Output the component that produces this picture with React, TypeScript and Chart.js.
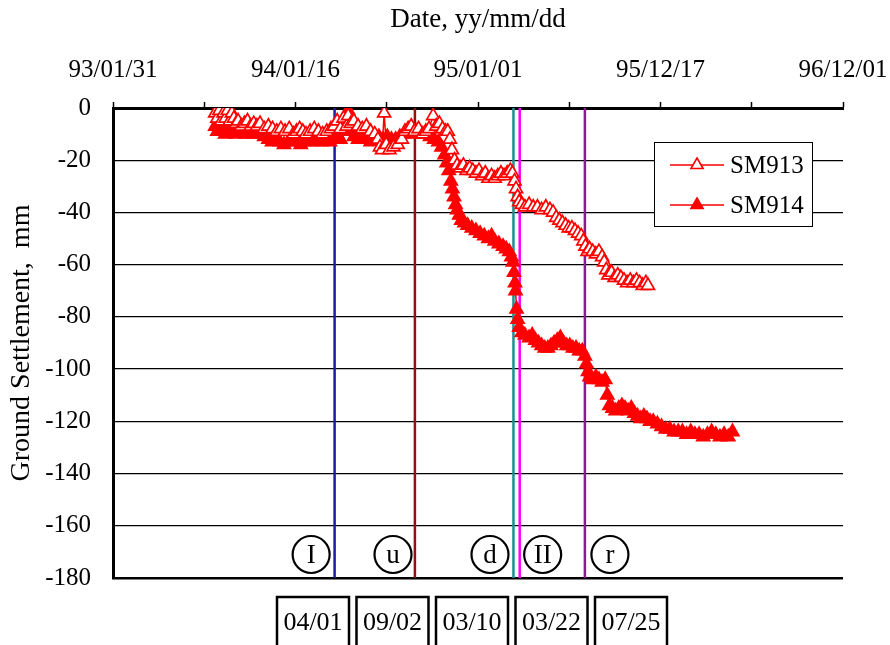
import React, { useEffect, useRef } from 'react';
import { Chart, registerables } from 'chart.js';

Chart.register(...registerables);

// x values are days counted from 93/01/31
const xTickLabels = ['93/01/31', '94/01/16', '95/01/01', '95/12/17', '96/12/01'];

const days913 = [
  196, 200, 204, 208, 212, 216, 220, 224, 228, 232,
  236, 240, 246, 252, 258, 264, 270, 276, 282, 290,
  298, 306, 314, 322, 330, 338, 346, 352, 358, 364,
  370, 378, 386, 394, 402, 410, 418, 424, 430, 436,
  442, 448, 451, 456, 462, 470, 478, 486, 494, 502,
  508, 512, 516, 520, 524, 530, 538, 546, 554, 560,
  566, 572, 578, 586, 594, 600, 606, 614, 620, 626,
  632, 638, 642, 646, 650, 655, 660, 666, 672, 678,
  684, 690, 696, 702, 708, 714, 720, 726, 732, 738,
  744, 750, 756, 762, 766, 770, 773, 776, 779, 784,
  790, 798, 806, 814, 822, 830, 838, 844, 850, 856,
  862, 868, 874, 880, 886, 892, 898, 902, 906, 910,
  914, 920, 926, 932, 938, 942, 946, 950, 956, 962,
  968, 974, 980, 986, 992, 998, 1004, 1010, 1016, 1022,
  1026,
];
const sm913 = [
  -2, -4, -1, -5, -2, -4, -1, -5, -2, -4,
  -6, -5, -7, -6, -5, -7, -6, -7, -6, -8,
  -7, -8, -9, -8, -9, -8, -10, -9, -8, -9,
  -10, -9, -8, -9, -10, -9, -8, -7, -5, -8,
  -4, -7, -3, -6, -5, -7, -8, -7, -9, -10,
  -12, -15, -16, -2, -14, -16, -15, -14, -12, -9,
  -8, -7, -9, -8, -10, -9, -8, -3, -7, -6,
  -8, -9, -9, -12, -16, -20, -22, -23, -22, -24,
  -23, -24, -25, -24, -26, -25, -27, -26, -27, -26,
  -25, -26, -25, -24, -25, -28, -31, -34, -36, -37,
  -38, -37, -38, -38, -39, -38, -39, -40, -42, -43,
  -44, -45, -46, -46, -47, -48, -49, -51, -53, -55,
  -54, -55, -56, -55, -57, -59, -62, -64, -63, -65,
  -64, -65, -66, -67, -66, -67, -66, -67, -68, -67,
  -68,
];

const days914 = [
  196, 200, 205, 210, 215, 220, 225, 230, 236, 242,
  248, 255, 262, 268, 275, 282, 290, 298, 305, 312,
  320, 328, 336, 344, 352, 360, 368, 376, 384, 392,
  400, 408, 416, 424, 430, 436, 442, 448, 451, 455,
  462, 470, 478, 486, 494, 502, 510, 518, 526, 534,
  542, 550, 558, 566, 574, 582, 590, 600, 608, 616,
  624, 630, 636, 640, 644, 648, 651, 654, 657, 660,
  664, 668, 674, 680, 688, 696, 704, 712, 720, 726,
  732, 740, 748, 754, 760, 764, 767, 769, 771, 772,
  774, 776, 779, 784, 790, 798, 804, 810, 816, 822,
  828, 834, 840, 846, 852, 858, 864, 870, 876, 882,
  888, 894, 900, 905, 908, 911, 914, 920, 926, 932,
  938, 944, 948, 952, 958, 964, 970, 976, 982, 988,
  994, 1000, 1006, 1012, 1018, 1024, 1030, 1036, 1044, 1052,
  1060, 1068, 1076, 1084, 1092, 1100, 1108, 1116, 1124, 1132,
  1140, 1148, 1156, 1164, 1172, 1180, 1188,
];
const sm914 = [
  -7, -9, -6, -8, -10, -8, -7, -9, -10, -8,
  -9, -10, -9, -10, -9, -10, -11, -12, -13, -12,
  -13, -14, -13, -12, -13, -14, -13, -12, -13, -12,
  -13, -12, -13, -12, -10, -12, -9, -7, -1, -9,
  -11, -12, -11, -12, -13, -12, -11, -12, -11, -12,
  -12, -11, -10, -9, -10, -9, -10, -10, -11, -12,
  -13, -15, -18, -21, -24, -28, -31, -34, -37, -39,
  -41, -43, -44, -45, -46, -47, -48, -49, -50, -49,
  -51, -52, -53, -54, -55, -57, -59, -63, -67, -70,
  -77, -81, -84, -86, -87, -88, -87, -89, -90, -91,
  -92, -92, -91, -90, -89, -88, -90, -91, -91, -92,
  -92, -93, -93, -95, -98, -101, -103, -104, -103, -104,
  -105, -104, -110, -114, -115, -116, -115, -114, -115, -116,
  -115, -117, -118, -119, -118, -119, -120, -120, -121, -122,
  -123, -123, -124, -124, -124, -125, -124, -125, -125, -126,
  -125, -124, -125, -126, -125, -126, -124,
];

// construction stages (vertical lines) and their dates
const stageDays = [425, 579, 768, 780, 905];
const stageDates = ['04/01', '09/02', '03/10', '03/22', '07/25'];
// circled phase markers
const phaseNames = ['I', 'u', 'd', 'II', 'r'];
const phaseDays = [380, 537, 723, 824, 953];
const phaseLevel = -171;

const SERIF = "'Liberation Serif', 'Times New Roman', Times, serif";
const stageColors = ['#1c1c9c', '#8e1212', '#1a9090', '#ff00ff', '#8b1a8b'];
const RED = '#ff0000';

function tri(ctx: CanvasRenderingContext2D, x: number, y: number, r: number) {
  let a = 0;
  ctx.beginPath();
  ctx.moveTo(x + Math.sin(a) * r, y - Math.cos(a) * r);
  a += (2 * Math.PI) / 3;
  ctx.lineTo(x + Math.sin(a) * r, y - Math.cos(a) * r);
  a += (2 * Math.PI) / 3;
  ctx.lineTo(x + Math.sin(a) * r, y - Math.cos(a) * r);
  ctx.closePath();
}

export default function App() {
  const ref = useRef<HTMLCanvasElement>(null);

  useEffect(() => {
    const canvas = ref.current;
    if (!canvas) return;
    const toPts = (xs: number[], ys: number[]) => xs.map((x, i) => ({ x, y: ys[i] }));

    const stageSets = stageDays.map((d, i) => ({
      label: 'stage ' + stageDates[i],
      data: [{ x: d, y: 0 }, { x: d, y: -180 }],
      borderColor: stageColors[i],
      borderWidth: 2.5,
      pointRadius: 0,
      showLine: true,
      fill: false,
      order: 2,
    }));

    const overlay = {
      id: 'overlay',
      afterDraw(chart: any) {
        const { ctx, chartArea, scales } = chart;
        const xs = scales.x;
        const ys = scales.y;
        ctx.save();

        // circled phase labels
        ctx.font = `27px ${SERIF}`;
        ctx.textAlign = 'center';
        ctx.textBaseline = 'middle';
        phaseNames.forEach((n, i) => {
          const cx = xs.getPixelForValue(phaseDays[i]);
          const cy = ys.getPixelForValue(phaseLevel);
          ctx.beginPath();
          ctx.arc(cx, cy, 18.5, 0, Math.PI * 2);
          ctx.fillStyle = '#fff';
          ctx.fill();
          ctx.lineWidth = 2.2;
          ctx.strokeStyle = '#000';
          ctx.stroke();
          ctx.fillStyle = '#000';
          ctx.fillText(n, cx, cy + 1);
        });

        // date boxes under the plot
        const bTop = chartArea.bottom + 19;
        const bW = 72;
        const left0 = chartArea.left + 164;
        const step = 79.5;
        ctx.lineWidth = 2.5;
        ctx.strokeStyle = '#000';
        ctx.font = `26px ${SERIF}`;
        stageDates.forEach((t, i) => {
          const bx = left0 + i * step;
          ctx.beginPath();
          ctx.moveTo(bx, chart.height + 10);
          ctx.lineTo(bx, bTop);
          ctx.lineTo(bx + bW, bTop);
          ctx.lineTo(bx + bW, chart.height + 10);
          ctx.stroke();
          ctx.fillStyle = '#000';
          ctx.fillText(t, bx + bW / 2, bTop + 26);
        });

        // legend
        const lx = chartArea.right - 189;
        const ly = chartArea.top + 34;
        const lw = 158;
        const lh = 84;
        ctx.fillStyle = '#fff';
        ctx.fillRect(lx, ly, lw, lh);
        ctx.lineWidth = 1;
        ctx.strokeStyle = '#000';
        ctx.strokeRect(lx + 0.5, ly + 0.5, lw, lh);
        const dsets = chart.data.datasets.slice(0, 2);
        dsets.forEach((ds: any, i: number) => {
          const ry = ly + 23 + i * 40;
          ctx.strokeStyle = ds.borderColor;
          ctx.lineWidth = 1.5;
          ctx.beginPath();
          ctx.moveTo(lx + 16, ry);
          ctx.lineTo(lx + 70, ry);
          ctx.stroke();
          tri(ctx, lx + 43, ry, 7);
          ctx.fillStyle = ds.pointBackgroundColor;
          ctx.fill();
          ctx.lineWidth = 1.6;
          ctx.strokeStyle = ds.pointBorderColor;
          ctx.stroke();
          ctx.fillStyle = '#000';
          ctx.font = `25px ${SERIF}`;
          ctx.textAlign = 'left';
          ctx.textBaseline = 'middle';
          ctx.fillText(ds.label, lx + 76, ry + 1);
        });

        ctx.restore();
      },
    };

    const chart = new Chart(canvas, {
      type: 'line',
      data: {
        datasets: [
          {
            label: 'SM913',
            data: toPts(days913, sm913),
            borderColor: RED,
            borderWidth: 1.5,
            pointStyle: 'triangle',
            pointRadius: 7.5,
            pointBackgroundColor: '#ffffff',
            pointBorderColor: RED,
            pointBorderWidth: 1.7,
            fill: false,
            order: 0,
          },
          {
            label: 'SM914',
            data: toPts(days914, sm914),
            borderColor: RED,
            borderWidth: 1.5,
            pointStyle: 'triangle',
            pointRadius: 7.5,
            pointBackgroundColor: RED,
            pointBorderColor: RED,
            pointBorderWidth: 1.7,
            fill: false,
            order: 0,
          },
          ...stageSets,
        ] as any,
      },
      options: {
        responsive: false,
        animation: false,
        events: [],
        layout: { padding: { left: 0, right: 47, top: 0, bottom: 67 } },
        plugins: {
          legend: { display: false },
          tooltip: { enabled: false },
        },
        scales: {
          x: {
            type: 'linear',
            position: 'top',
            min: 0,
            max: 1400,
            afterFit: (s: any) => {
              s.height = 108;
              s.paddingLeft = 0;
              s.paddingRight = 0;
            },
            ticks: {
              stepSize: 175,
              autoSkip: false,
              maxRotation: 0,
              padding: 17,
              color: '#000',
              font: { family: SERIF, size: 25 },
              callback: (v: any) => (Number(v) % 350 === 0 ? xTickLabels[Number(v) / 350] : ''),
            },
            grid: {
              drawOnChartArea: false,
              drawTicks: true,
              tickLength: 6,
              tickWidth: 1.5,
              tickColor: '#000',
            },
            border: { display: true, color: '#000', width: 3 },
            title: {
              display: true,
              text: 'Date, yy/mm/dd',
              color: '#000',
              font: { family: SERIF, size: 27 },
              padding: { top: 4, bottom: 0 },
            },
          },
          y: {
            type: 'linear',
            min: -180,
            max: 0,
            afterFit: (s: any) => {
              s.width = 113;
              s.paddingTop = 0;
              s.paddingBottom = 0;
            },
            ticks: {
              stepSize: 20,
              color: '#000',
              padding: 22,
              font: { family: SERIF, size: 25 },
            },
            grid: {
              color: '#000',
              lineWidth: (c: any) => (c.tick && c.tick.value === -180 ? 2.5 : 1.3),
              drawTicks: false,
            },
            border: { display: true, color: '#000', width: 3 },
            title: {
              display: true,
              text: 'Ground Settlement,  mm',
              color: '#000',
              font: { family: SERIF, size: 28 },
              padding: { top: 5, bottom: 0 },
            },
          },
        },
      } as any,
      plugins: [overlay],
    });

    return () => {
      chart.destroy();
    };
  }, []);

  return (
    <div style={{ position: 'absolute', left: 0, top: 0, width: 890, height: 645, background: '#fff' }}>
      <canvas ref={ref} width={890} height={645} style={{ display: 'block' }} />
    </div>
  );
}
